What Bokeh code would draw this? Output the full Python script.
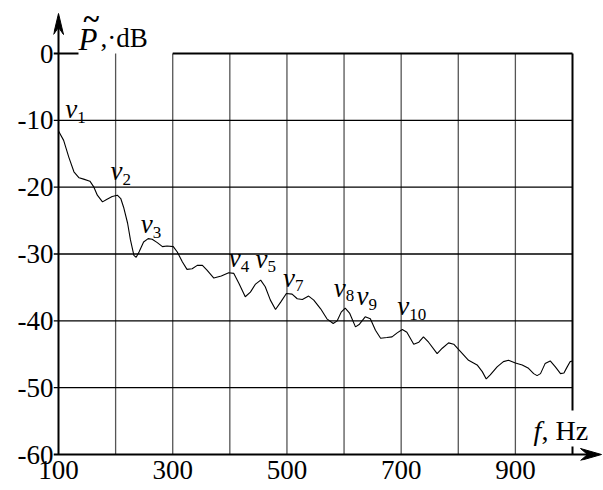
from bokeh.plotting import figure
from bokeh.models import Range1d, FixedTicker, Label, ColumnDataSource
from bokeh.core.properties import value
from bokeh.embed import file_html
from bokeh.resources import INLINE

# ---------------- data ----------------
freq = [100, 109, 118, 127, 136, 144, 155, 162, 168, 177,
        185, 194, 203, 209, 214, 221, 226, 232, 236, 241,
        249, 257, 264, 273, 282, 290, 301, 308, 317, 325,
        334, 343, 352, 360, 372, 385, 398, 407, 416, 427,
        436, 445, 454, 462, 471, 480, 489, 499, 509, 518,
        527, 538, 547, 559, 570, 581, 588, 595, 602, 610,
        620, 627, 637, 646, 655, 664, 675, 684, 693, 702,
        710, 722, 731, 739, 748, 763, 772, 783, 792, 804,
        818, 833, 842, 849, 856, 868, 879, 888, 900, 912,
        923, 932, 938, 944, 952, 961, 970, 979, 985, 990,
        996, 1000]
level_db = [-11.6, -13.0, -15.5, -17.7, -18.6, -18.8, -19.1, -20.0, -21.2, -22.2,
            -21.8, -21.4, -21.2, -21.7, -23.0, -25.4, -27.9, -30.2, -30.5, -29.7,
            -28.2, -27.7, -27.8, -28.3, -28.9, -28.8, -28.9, -29.7, -31.2, -32.3,
            -32.2, -31.7, -31.7, -32.4, -33.6, -33.3, -32.8, -32.9, -34.4, -36.4,
            -35.7, -34.5, -33.9, -34.9, -36.9, -38.3, -37.2, -35.9, -36.0, -36.7,
            -36.8, -36.3, -36.9, -38.2, -39.7, -40.4, -40.0, -38.7, -38.1, -38.9,
            -40.9, -40.5, -39.4, -39.7, -41.4, -42.6, -42.5, -42.4, -41.8, -41.3,
            -41.7, -43.5, -43.2, -42.4, -43.2, -44.9, -44.1, -43.3, -43.5, -44.6,
            -45.9, -46.6, -47.6, -48.7, -48.1, -46.9, -46.1, -45.9, -46.3, -46.6,
            -47.1, -47.9, -48.2, -47.9, -46.4, -46.0, -46.9, -47.9, -47.8, -47.0,
            -46.1, -46.0]

x_ticks = [100, 300, 500, 700, 900]
x_grid = [200, 300, 400, 500, 600, 700, 800, 900]
y_ticks = [0, -10, -20, -30, -40, -50, -60]
y_tick_labels = ["0", "-10", "-20", "-30", "-40", "-50", "-60"]
y_grid = [-10, -20, -30, -40, -50]

# peak labels v_n (baseline anchor of each label: frequency, level)
v_sub = ["1", "2", "3", "4", "5", "7", "8", "9", "10"]
v_freq = [112, 191, 244, 398, 445, 493, 582, 622, 693]
v_db = [-9.7, -19.0, -26.9, -32.0, -32.1, -34.9, -36.4, -37.7, -39.2]

x_min, x_max = 100, 1000
y_min, y_max = -60, 0

# ---------------- layout / style ----------------
FONT = "Liberation Serif"
TICK_SIZE = "27px"
W, H = 603, 490
AXIS_X_PX, AXIS_Y_PX, TOP_PX = 58, 454, 53   # canvas positions of the axes / top
PX_X = (572 - AXIS_X_PX) / (x_max - x_min)    # pixels per Hz
PX_Y = (AXIS_Y_PX - TOP_PX) / (y_max - y_min)  # pixels per dB
PAD_L, PAD_B = 5, 6                           # frame margin around the axes (px)
FRAME_L = AXIS_X_PX - PAD_L
FRAME_B = H - (AXIS_Y_PX + PAD_B)
X_START = x_min - PAD_L / PX_X
X_END = x_min + (W - AXIS_X_PX) / PX_X
Y_START = y_min - PAD_B / PX_Y
Y_END = y_max + TOP_PX / PX_Y
X_TIP = x_min + (601 - AXIS_X_PX) / PX_X
Y_TIP = y_max + 40 / PX_Y
TICK_STUB = x_min - PAD_L / PX_X              # tick stubs reach left of the y axis
MID = 0.34  # 'middle' baseline sits this many em above the alphabetic baseline

p = figure(width=W, height=H, output_backend="svg", toolbar_location=None,
           x_range=Range1d(X_START, X_END), y_range=Range1d(Y_START, Y_END),
           min_border_left=FRAME_L, min_border_top=0, min_border_right=0,
           min_border_bottom=FRAME_B)
p.outline_line_color = None
p.background_fill_color = "white"
p.border_fill_color = "white"
p.xgrid.visible = False
p.ygrid.visible = False

# axes: only the tick labels come from Bokeh's axes; the lines are drawn below
for ax in (p.xaxis[0], p.yaxis[0]):
    ax.axis_line_color = None
    ax.major_tick_line_color = None
    ax.minor_tick_line_color = None
    ax.major_tick_in = 0
    ax.major_tick_out = 0
    ax.minor_tick_in = 0
    ax.minor_tick_out = 0
    ax.major_label_standoff = 0
    ax.major_label_text_font = FONT
    ax.major_label_text_font_size = TICK_SIZE
    ax.major_label_text_color = "black"

p.xaxis.ticker = FixedTicker(ticks=x_ticks)
p.yaxis.ticker = FixedTicker(ticks=y_ticks)
p.yaxis.major_label_overrides = dict(zip(y_ticks, y_tick_labels))

# grid lines (limited to the plotting area), with small tick stubs on the left
p.segment(x0=x_grid, y0=[y_min] * len(x_grid), x1=x_grid, y1=[y_max] * len(x_grid),
          line_color="#555555", line_width=1.3)
p.segment(x0=[TICK_STUB] * len(y_grid), y0=y_grid, x1=[x_max] * len(y_grid), y1=y_grid,
          line_color="black", line_width=1.3)

# axis lines and frame borders (top broken by the y title, right by the x title)
p.segment(x0=[x_min, TICK_STUB], y0=[y_min, y_min], x1=[x_min, X_TIP - 12 / PX_X],
          y1=[Y_TIP - 12 / PX_Y, y_min], line_color="black", line_width=2)
p.segment(x0=[TICK_STUB, 300], y0=[y_max, y_max], x1=[135, x_max], y1=[y_max, y_max],
          line_color="black", line_width=2)
p.segment(x0=[x_max, x_max], y0=[y_max, -58.8], x1=[x_max, x_max], y1=[-53.4, y_min],
          line_color="black", line_width=2)

# arrow heads (notched), sized in pixels
L_HEAD, HALF_W, NOTCH = 21, 5, 14
p.patch([x_min, x_min - HALF_W / PX_X, x_min, x_min + HALF_W / PX_X],
        [Y_TIP, Y_TIP - L_HEAD / PX_Y, Y_TIP - NOTCH / PX_Y, Y_TIP - L_HEAD / PX_Y],
        fill_color="black", line_color="black", line_width=1)
p.patch([X_TIP, X_TIP - L_HEAD / PX_X, X_TIP - NOTCH / PX_X, X_TIP - L_HEAD / PX_X],
        [y_min, y_min + 6 / PX_Y, y_min, y_min - 6 / PX_Y],
        fill_color="black", line_color="black", line_width=1)

# the curve
p.line(freq, level_db, line_color="black", line_width=1.1)

# v labels
src = ColumnDataSource(dict(x=v_freq, y=v_db, sub=v_sub))
p.text(x="x", y="y", text=value("v"), source=src, text_font=value(FONT),
       text_font_style="italic", text_font_size="27px", text_color="black",
       text_align="left", text_baseline="middle", y_offset=-MID * 27)
p.text(x="x", y="y", text="sub", source=src, text_font=value(FONT),
       text_font_size="17px", text_color="black", x_offset=12,
       y_offset=4.5 - MID * 17, text_align="left", text_baseline="middle")

# axis titles
def add_label(x, y, dx, baseline_up, text, size, style="normal"):
    p.add_layout(Label(x=x, y=y, x_offset=dx, y_offset=baseline_up + MID * size,
                       text=text, text_font=FONT, text_font_style=style,
                       text_font_size=f"{size}px", text_color="black",
                       text_baseline="middle", text_align="left"))

add_label(x_min, y_max, 20, 3.5, "P", 31, "italic")
add_label(x_min, y_max, 25, 35 - MID * 30, "~", 30, "bold")
add_label(x_min, y_max, 42, 6.6, ",·dB", 27)
add_label(x_max, y_min, -39, 14, "f", 28, "italic")
add_label(x_max, y_min, -31, 14, ", Hz", 28)

open("out.html", "w").write(file_html(p, INLINE))
